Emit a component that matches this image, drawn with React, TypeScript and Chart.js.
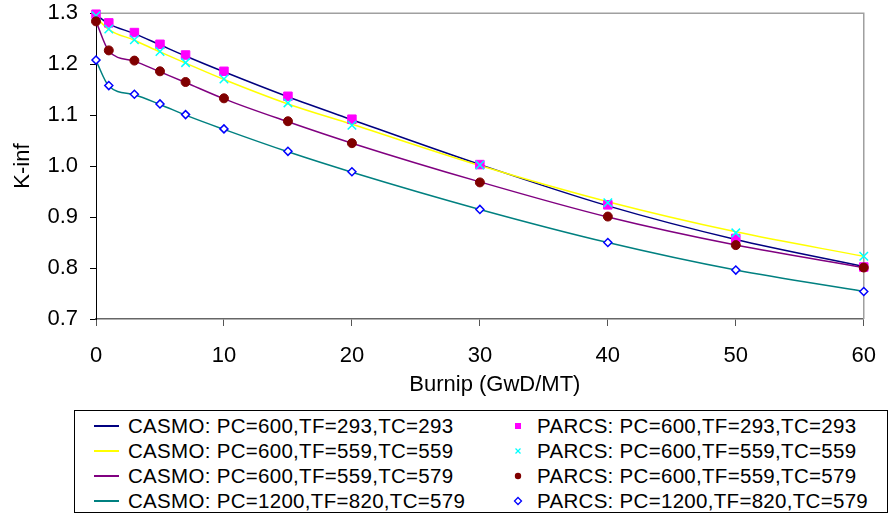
import React, { useEffect, useRef } from "react";
import { Chart, registerables } from "chart.js";

Chart.register(...registerables);

// Burnup points (GwD/MT)
const burnup = [0, 1, 3, 5, 7, 10, 15, 20, 30, 40, 50, 60];

// CASMO curves
const casmo600_293_293 = [1.297, 1.279, 1.260, 1.238, 1.216, 1.185, 1.136, 1.091, 1.003, 0.922, 0.856, 0.803];
const casmo600_559_559 = [1.292, 1.268, 1.247, 1.224, 1.202, 1.170, 1.122, 1.082, 1.001, 0.930, 0.871, 0.823];
const casmo600_559_579 = [1.284, 1.226, 1.206, 1.185, 1.164, 1.132, 1.087, 1.045, 0.969, 0.900, 0.845, 0.801];
const casmo1200_820_579 = [1.207, 1.157, 1.140, 1.121, 1.100, 1.072, 1.028, 0.988, 0.915, 0.850, 0.796, 0.754];

// PARCS points
const parcs600_293_293 = [1.298, 1.281, 1.262, 1.239, 1.218, 1.186, 1.137, 1.092, 1.003, 0.924, 0.858, 0.802];
const parcs600_559_559 = [1.295, 1.269, 1.248, 1.225, 1.203, 1.171, 1.124, 1.080, 1.002, 0.928, 0.869, 0.823];
const parcs600_559_579 = [1.284, 1.227, 1.207, 1.186, 1.165, 1.133, 1.088, 1.045, 0.968, 0.901, 0.845, 0.801];
const parcs1200_820_579 = [1.208, 1.158, 1.141, 1.122, 1.101, 1.073, 1.029, 0.989, 0.915, 0.850, 0.796, 0.754];

const casmoLabels = [
  "CASMO: PC=600,TF=293,TC=293",
  "CASMO: PC=600,TF=559,TC=559",
  "CASMO: PC=600,TF=559,TC=579",
  "CASMO: PC=1200,TF=820,TC=579",
];
const parcsLabels = [
  "PARCS: PC=600,TF=293,TC=293",
  "PARCS: PC=600,TF=559,TC=559",
  "PARCS: PC=600,TF=559,TC=579",
  "PARCS: PC=1200,TF=820,TC=579",
];
const xAxisTitle = "Burnip (GwD/MT)";
const yAxisTitle = "K-inf";

const casmoSeries = [casmo600_293_293, casmo600_559_559, casmo600_559_579, casmo1200_820_579];
const parcsSeries = [parcs600_293_293, parcs600_559_559, parcs600_559_579, parcs1200_820_579];

const casmoColors = ["#000080", "#FFFF00", "#800080", "#008080"];
const parcsStyles = [
  { style: "rect", radius: 6, bg: "#FF00FF", border: "#FF00FF", bw: 1 },
  { style: "crossRot", radius: 6, bg: "#00FFFF", border: "#00FFFF", bw: 1.5 },
  { style: "circle", radius: 4.5, bg: "#800000", border: "#800000", bw: 1 },
  { style: "rectRot", radius: 4, bg: "#FFFFFF", border: "#0000FF", bw: 1.5 },
];

const FONT = "'Liberation Sans', Arial, sans-serif";

const toXY = (arr: number[]) => burnup.map((x, i) => ({ x, y: arr[i] }));

const framePlugin = {
  id: "frame",
  beforeDatasetsDraw(chart: any) {
    const { ctx, chartArea: a } = chart;
    ctx.save();
    ctx.strokeStyle = "#a0a0a0";
    ctx.lineWidth = 1.5;
    ctx.beginPath();
    ctx.moveTo(a.left, a.top);
    ctx.lineTo(a.right, a.top);
    ctx.lineTo(a.right, a.bottom);
    ctx.stroke();
    ctx.restore();
  },
  afterDraw(chart: any) {
    // x-axis title, centred a little right of the plot centre as in the original
    const { ctx, chartArea: a } = chart;
    ctx.save();
    ctx.font = `22px ${FONT}`;
    ctx.fillStyle = "#000";
    ctx.textAlign = "center";
    ctx.textBaseline = "middle";
    ctx.fillText(xAxisTitle, (a.left + a.right) / 2 + 15, a.bottom + 66);
    ctx.restore();
  },
};

function Marker({ idx }: { idx: number }) {
  const s = parcsStyles[idx];
  let shape: any = null;
  if (idx === 0) shape = <rect x={3} y={3} width={6} height={6} fill={s.bg} />;
  if (idx === 1)
    shape = (
      <g stroke={s.border} strokeWidth={1.2}>
        <line x1={3.5} y1={3.5} x2={8.5} y2={8.5} />
        <line x1={8.5} y1={3.5} x2={3.5} y2={8.5} />
      </g>
    );
  if (idx === 2) shape = <circle cx={6} cy={6} r={3.2} fill={s.bg} />;
  if (idx === 3)
    shape = <polygon points="6,2.5 9.5,6 6,9.5 2.5,6" fill="#fff" stroke={s.border} strokeWidth={1.3} />;
  return (
    <svg width={12} height={12} style={{ position: "absolute", left: 437, top: 7 }}>
      {shape}
    </svg>
  );
}

function Legend() {
  const rowStep = 25.3;
  const rows = casmoLabels.map((lab, i) => (
    <div
      key={i}
      style={{ position: "absolute", left: 0, top: 1.5 + i * rowStep, height: 25, width: "100%" }}
    >
      <div
        style={{
          position: "absolute",
          left: 19,
          top: 12,
          width: 25,
          height: 2,
          background: casmoColors[i],
        }}
      />
      <span style={{ position: "absolute", left: 53, top: 0, lineHeight: "25px", whiteSpace: "nowrap" }}>
        {lab}
      </span>
      <Marker idx={i} />
      <span style={{ position: "absolute", left: 462, top: 0, lineHeight: "25px", whiteSpace: "nowrap" }}>
        {parcsLabels[i]}
      </span>
    </div>
  ));
  return (
    <div
      style={{
        position: "absolute",
        left: 74,
        top: 410,
        width: 814,
        height: 103,
        boxSizing: "border-box",
        border: "1px solid #000",
        fontFamily: FONT,
        fontSize: 20.5,
        letterSpacing: "0.3px",
        color: "#000",
        background: "#fff",
      }}
    >
      {rows}
    </div>
  );
}

export default function App() {
  const ref = useRef<HTMLCanvasElement | null>(null);

  useEffect(() => {
    if (!ref.current) return;
    const datasets: any[] = [];
    // Later series drawn on top: Chart.js draws index 0 last (on top)
    for (let i = 3; i >= 0; i--) {
      const s = parcsStyles[i];
      datasets.push({
        label: parcsLabels[i],
        data: toXY(parcsSeries[i]),
        showLine: false,
        pointStyle: s.style,
        pointRadius: s.radius,
        pointBackgroundColor: s.bg,
        pointBorderColor: s.border,
        pointBorderWidth: s.bw,
        backgroundColor: s.bg,
        borderColor: s.border,
        clip: false,
      });
    }
    for (let i = 3; i >= 0; i--) {
      datasets.push({
        label: casmoLabels[i],
        data: toXY(casmoSeries[i]),
        borderColor: casmoColors[i],
        backgroundColor: casmoColors[i],
        borderWidth: 1.5,
        pointRadius: 0,
        cubicInterpolationMode: "monotone",
        fill: false,
        clip: false,
      });
    }

    const tickFont = { family: FONT, size: 22 };
    const chart = new Chart(ref.current, {
      type: "line",
      data: { datasets },
      options: {
        animation: false,
        responsive: false,
        devicePixelRatio: 1,
        layout: { padding: { left: 0, right: 27, top: 0, bottom: 0 } },
        plugins: { legend: { display: false }, tooltip: { enabled: false } },
        scales: {
          x: {
            type: "linear",
            min: 0,
            max: 60,
            ticks: { stepSize: 10, font: tickFont, color: "#000", padding: 17 },
            grid: { drawOnChartArea: false, drawTicks: true, tickLength: 7, color: "#555" },
            border: { display: true, color: "#666", width: 1.5 },
            title: { display: false },
            afterFit: (s: any) => {
              s.height = 81;
            },
          },
          y: {
            type: "linear",
            min: 0.7,
            max: 1.3,
            ticks: {
              stepSize: 0.1,
              font: tickFont,
              color: "#000",
              padding: 12,
              callback: (v: any) => Number(v).toFixed(1),
            },
            grid: { drawOnChartArea: false, drawTicks: true, tickLength: 6, color: "#000" },
            border: { display: true, color: "#000", width: 1 },
            title: {
              display: true,
              text: yAxisTitle,
              font: tickFont,
              color: "#000",
              padding: { top: 10, bottom: 0 },
            },
            afterFit: (s: any) => {
              s.width = 96;
            },
          },
        },
      },
      plugins: [framePlugin],
    } as any);
    return () => chart.destroy();
  }, []);

  return (
    <div
      style={{
        position: "fixed",
        left: 0,
        top: 0,
        width: 893,
        height: 516,
        overflow: "hidden",
        background: "#fff",
      }}
    >
      <canvas ref={ref} width={893} height={412} style={{ position: "absolute", left: 0, top: -12 }} />
      <Legend />
    </div>
  );
}
